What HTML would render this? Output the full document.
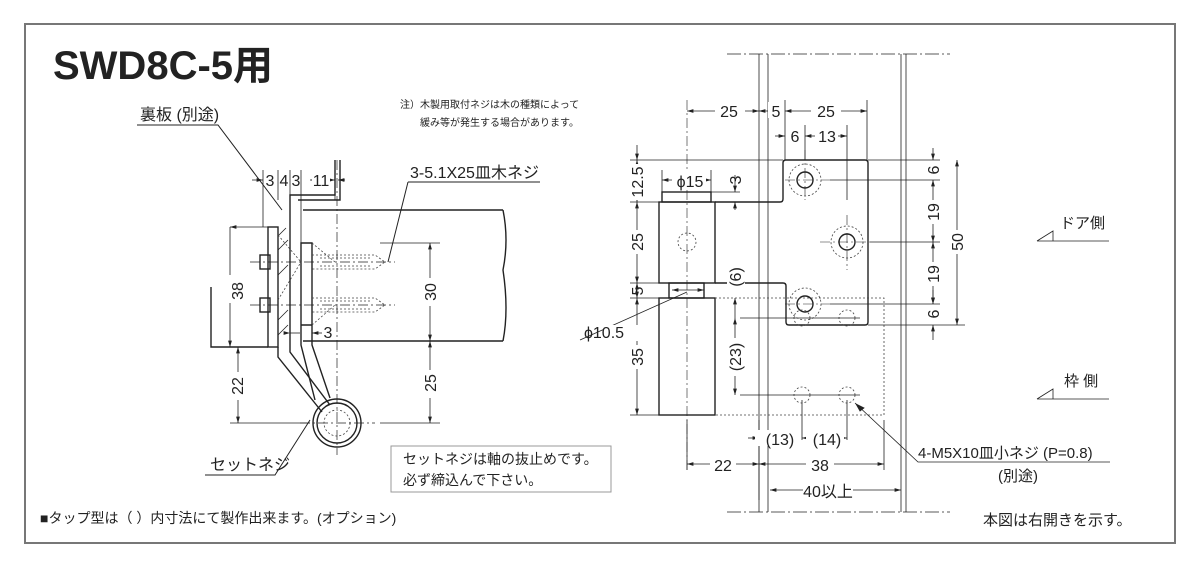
<!DOCTYPE html>
<html><head><meta charset="utf-8"><style>
html,body{margin:0;padding:0;background:#fff;}
svg{display:block;font-family:"Liberation Sans","Noto Sans CJK JP",sans-serif;}
text{fill:#222;}
</style></head><body>
<svg width="1200" height="570" viewBox="0 0 1200 570" xmlns="http://www.w3.org/2000/svg">
<defs>
<marker id="a" viewBox="0 0 10 6" refX="10" refY="3" markerWidth="8" markerHeight="5" orient="auto-start-reverse"><path d="M0,0L10,3L0,6z" fill="#222"/></marker>
</defs>
<rect x="25" y="24" width="1150" height="519" fill="none" stroke="#777" stroke-width="2"/>
<text x="53" y="79" font-size="40" font-weight="bold">SWD8C-5用</text>

<g font-size="16">
<text x="140" y="120">裏板 (別途)</text>
<text x="410" y="178">3-5.1X25皿木ネジ</text>
<text x="210" y="470">セットネジ</text>
</g>
<g stroke="#222" stroke-width="1" fill="none">
<path d="M137 125H218L282 210"/>
<path d="M408 182H540M408 182L388 262"/>
<path d="M205 475H275L310 420"/>
</g>
<text x="400" y="108" font-size="10">注）木製用取付ネジは木の種類によって</text>
<text x="420" y="126" font-size="10">緩み等が発生する場合があります。</text>

<!-- left view -->
<g stroke="#222" stroke-width="1.4" fill="none">
<path d="M303 210H503M303 341H503"/>
<path d="M503 210q6 30 0 60q6 40 0 71"/>
<path d="M335 160V195H290V347M340 160V200H298"/>
<rect x="268" y="227" width="10" height="120"/>
<path d="M278 347V357L322 412M290 347V352L330 405"/>
<path d="M301 243H312V325H301zM301 325V345L315 400M312 325V345L330 398"/>
<path d="M211 287V347H268"/>
<circle cx="337" cy="423" r="24"/>
<circle cx="337" cy="423" r="20"/>
<rect x="260" y="255" width="10" height="14"/><rect x="260" y="298" width="10" height="14"/>
</g>
<g stroke="#222" stroke-width="0.8">
<path d="M278 236l8-8M278 250l10-10M278 275l10-10M278 320l10-10M278 335l10-10"/>
</g>
<g stroke="#444" stroke-width="0.8" fill="none" stroke-dasharray="2,2">
<path d="M312 255H375L385 262L375 269H312M312 298H375L385 305L375 312H312"/>
<path d="M320 258H372M320 266H372M320 301H372M320 309H372"/>
<circle cx="337" cy="423" r="13"/>
<path d="M278 235L301 262M278 300L301 262M312 243L335 262M312 325L335 305"/>
</g>
<g stroke="#222" stroke-width="0.7" stroke-dasharray="10,3,2,3">
<path d="M337 160V455M250 262H395M250 305H395M300 423H375"/>
</g>
<g stroke="#222" stroke-width="0.8" fill="none">
<path d="M230 227H268M230 347H268M230 423H310M230 227V347" marker-start="url(#a)" marker-end="url(#a)"/>
<path d="M238 347V423" marker-start="url(#a)" marker-end="url(#a)"/>
<path d="M380 243H440M440 341H503M380 423H440"/>
<path d="M430 243V341" marker-start="url(#a)" marker-end="url(#a)"/>
<path d="M430 341V423" marker-start="url(#a)" marker-end="url(#a)"/>
<path d="M263 170V227M278 170V200M290 170V200M301 170V243M335 170V200"/>
<path d="M252 180H263" marker-end="url(#a)"/>
<path d="M310 180H335" marker-start="url(#a)" marker-end="url(#a)"/>
<path d="M345 180H338" marker-end="url(#a)"/>
<path d="M300 333H290M290 333" marker-end="url(#a)"/>
<path d="M322 333H312" marker-end="url(#a)"/>
</g>
<g font-size="16" text-anchor="middle">
<text x="270" y="186">3</text><text x="284" y="186">4</text><text x="296" y="186">3</text>
<rect x="312" y="172" width="18" height="16" fill="#fff"/><text x="321" y="186">11</text>
<text x="328" y="338">3</text>
<rect x="229" y="275" width="18" height="28" fill="#fff"/><text transform="translate(243,291) rotate(-90)">38</text>
<rect x="229" y="372" width="18" height="28" fill="#fff"/><text transform="translate(243,386) rotate(-90)">22</text>
<rect x="421" y="278" width="18" height="28" fill="#fff"/><text transform="translate(436,292) rotate(-90)">30</text>
<rect x="421" y="370" width="18" height="28" fill="#fff"/><text transform="translate(436,383) rotate(-90)">25</text>
</g>
<rect x="391" y="446" width="220" height="46" fill="#fff" stroke="#999"/>
<text x="403" y="464" font-size="14">セットネジは軸の抜止めです。</text>
<text x="403" y="485" font-size="14">必ず締込んで下さい。</text>
<text x="40" y="523" font-size="14">■タップ型は（ ）内寸法にて製作出来ます。(オプション)</text>

<!-- right view -->
<g stroke="#222" stroke-width="0.8" fill="none">
<path d="M727 54H950" stroke-dasharray="14,3,2,3"/>
<path d="M727 512H950" stroke-dasharray="14,3,2,3"/>
<path d="M759 54V512M768 54V512M901 54V512M906 54V512"/>
</g>
<g stroke="#222" stroke-width="1.4" fill="none">
<rect x="662" y="192" width="49" height="10"/>
<rect x="659" y="202" width="56" height="81"/>
<rect x="669" y="283" width="35" height="15"/>
<rect x="659" y="298" width="56" height="117"/>
<path d="M715 202H780q3 0 3-3V163q0-3 3-3H865q3 0 3 3V322q0 3-3 3H789q-3 0-3-3V286q0-3-3-3H715"/>
<circle cx="805" cy="180" r="8"/><circle cx="847" cy="242" r="8"/><circle cx="805" cy="304" r="8"/>
</g>
<g stroke="#444" stroke-width="0.8" fill="none" stroke-dasharray="2,2">
<circle cx="805" cy="180" r="16"/><circle cx="847" cy="242" r="16"/><circle cx="805" cy="304" r="16"/>
<circle cx="687" cy="242" r="9"/>
<circle cx="802" cy="318" r="8"/><circle cx="847" cy="318" r="8"/>
<circle cx="802" cy="395" r="8"/><circle cx="847" cy="395" r="8"/>
<path d="M715 298H884V415H715"/>
</g>
<g stroke="#222" stroke-width="0.6" stroke-dasharray="10,3,2,3">
<path d="M687 100V470M805 150V200M847 215V270M785 180H830M820 242H870M785 304H830"/>
</g>
<g stroke="#222" stroke-width="0.8" fill="none">
<path d="M630 160H783M868 160H940M630 202H659M711 192H740M630 283H659M711 283H740M630 298H659M630 415H659M868 325H965M830 180H940M870 242H940M830 304H940M740 318H860M740 395H860"/>
<path d="M785 100V160M867 100V160M805 125V160M847 125V200M662 170V192M711 170V192"/>
<path d="M802 400V440M847 400V440M884 420V470M687 420V470M759 420V500"/>
<path d="M687 111H759" marker-start="url(#a)" marker-end="url(#a)"/>
<path d="M785 111H867" marker-start="url(#a)" marker-end="url(#a)"/>
<path d="M770 111H759" marker-end="url(#a)"/>
<path d="M775 136H785" marker-end="url(#a)"/>
<path d="M815 136H805" marker-end="url(#a)"/>
<path d="M832 136H847" marker-end="url(#a)"/>
<path d="M662 180H711" marker-start="url(#a)" marker-end="url(#a)"/>
<path d="M637 160V202" marker-start="url(#a)" marker-end="url(#a)"/>
<path d="M637 202V283" marker-start="url(#a)" marker-end="url(#a)"/>
<path d="M637 283V298" marker-start="url(#a)" marker-end="url(#a)"/>
<path d="M637 298V415" marker-start="url(#a)" marker-end="url(#a)"/>
<path d="M637 145V160" marker-end="url(#a)"/>
<path d="M735 175V192" marker-end="url(#a)"/><path d="M735 210V202" marker-end="url(#a)"/>
<path d="M735 298V318" marker-start="url(#a)"/>
<path d="M735 318V395" marker-start="url(#a)" marker-end="url(#a)"/>
<path d="M933 148V160" marker-end="url(#a)"/>
<path d="M933 180V242" marker-start="url(#a)" marker-end="url(#a)"/>
<path d="M933 242V304" marker-start="url(#a)" marker-end="url(#a)"/>
<path d="M933 340V325" marker-end="url(#a)"/><path d="M933 290V304" marker-end="url(#a)"/>
<path d="M957 160V325" marker-start="url(#a)" marker-end="url(#a)"/>
<path d="M672 290H704" marker-start="url(#a)" marker-end="url(#a)"/>
<path d="M748 438H759" marker-end="url(#a)"/>
<path d="M812 438H802" marker-end="url(#a)"/>
<path d="M835 438H847" marker-end="url(#a)"/>
<path d="M687 464H759" marker-start="url(#a)" marker-end="url(#a)"/>
<path d="M759 464H884" marker-start="url(#a)" marker-end="url(#a)"/>
<path d="M770 490H901" marker-start="url(#a)" marker-end="url(#a)"/>
<path d="M580 340L687 292"/>
<path d="M1110 462H918L855 403" />
<path d="M856 404l8 4l-4 3z" fill="#222"/>
<path d="M1037 241H1109M1037 241L1053 231V241M1037 399H1109M1037 399L1053 389V399"/>
</g>
<g font-size="16" text-anchor="middle" fill="#222">
<rect x="715" y="102" width="30" height="16" fill="#fff"/><text x="729" y="117">25</text>
<rect x="768" y="102" width="14" height="16" fill="#fff"/><text x="776" y="117">5</text>
<rect x="811" y="102" width="30" height="16" fill="#fff"/><text x="826" y="117">25</text>
<text x="795" y="142">6</text>
<rect x="816" y="128" width="22" height="16" fill="#fff"/><text x="827" y="142">13</text>
<rect x="672" y="172" width="34" height="16" fill="#fff"/><text x="690" y="187">ϕ15</text>
<rect x="604" y="325" width="44" height="16" fill="#fff"/>
<text x="604" y="338">ϕ10.5</text>
<rect x="755" y="430" width="40" height="16" fill="#fff"/><text x="780" y="445">(13)</text>
<rect x="806" y="430" width="38" height="16" fill="#fff"/><text x="827" y="445">(14)</text>
<rect x="710" y="456" width="26" height="16" fill="#fff"/><text x="723" y="471">22</text>
<rect x="806" y="456" width="28" height="16" fill="#fff"/><text x="820" y="471">38</text>
<rect x="803" y="482" width="50" height="16" fill="#fff"/><text x="828" y="497">40以上</text>
<g>
<rect x="628" y="164" width="18" height="36" fill="#fff"/><text transform="translate(643,182) rotate(-90)">12.5</text>
<rect x="628" y="230" width="18" height="24" fill="#fff"/><text transform="translate(643,242) rotate(-90)">25</text>
<text transform="translate(643,291) rotate(-90)">5</text>
<rect x="628" y="345" width="18" height="24" fill="#fff"/><text transform="translate(643,357) rotate(-90)">35</text>
<text transform="translate(741,180) rotate(-90)">3</text>
<rect x="727" y="262" width="18" height="30" fill="#fff"/><text transform="translate(741,277) rotate(-90)">(6)</text>
<rect x="727" y="338" width="18" height="38" fill="#fff"/><text transform="translate(741,357) rotate(-90)">(23)</text>
<text transform="translate(939,170) rotate(-90)">6</text>
<rect x="925" y="200" width="18" height="24" fill="#fff"/><text transform="translate(939,212) rotate(-90)">19</text>
<rect x="925" y="262" width="18" height="24" fill="#fff"/><text transform="translate(939,274) rotate(-90)">19</text>
<text transform="translate(939,314) rotate(-90)">6</text>
<rect x="949" y="230" width="18" height="24" fill="#fff"/><text transform="translate(963,242) rotate(-90)">50</text>
</g>
</g>
<g font-size="15">
<text x="1060" y="228">ドア側</text>
<text x="1064" y="386">枠 側</text>
<text x="918" y="458">4-M5X10皿小ネジ (P=0.8)</text>
<text x="998" y="481">(別途)</text>
<text x="983" y="525">本図は右開きを示す。</text>
</g>
</svg>
</body></html>
